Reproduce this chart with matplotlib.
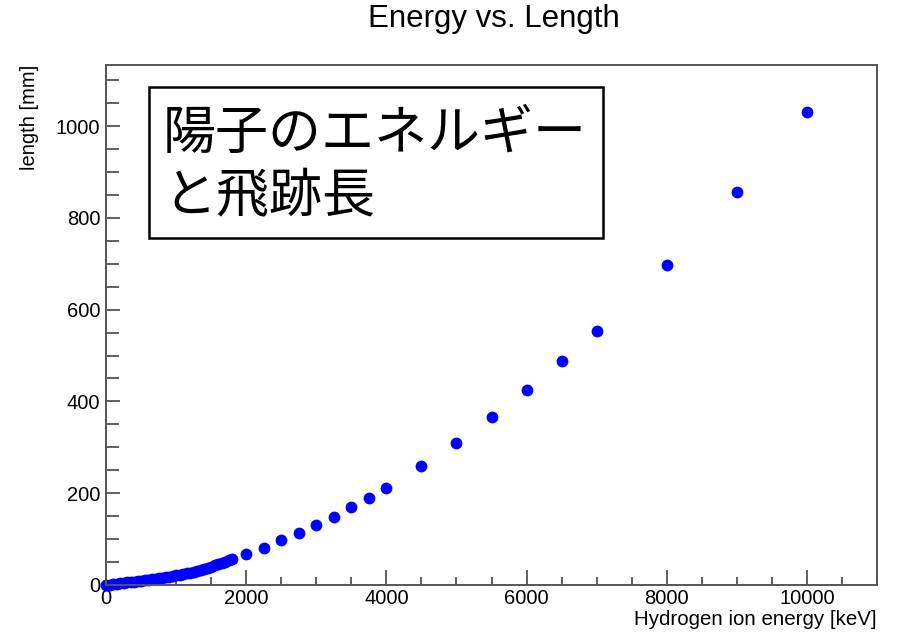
import numpy as np
import matplotlib.pyplot as plt
from matplotlib.patches import Rectangle
from matplotlib.ticker import MultipleLocator

## Dados: energia do íon de hidrogênio (keV) e alcance (mm)
energia_baixa = [0, 50, 100, 150, 200, 250, 300, 350, 400, 450, 500, 550, 600,
                 650, 700, 750, 800, 850, 900, 950, 1000, 1050, 1100, 1150,
                 1200, 1250, 1300, 1350, 1400, 1450, 1500, 1550, 1600, 1650,
                 1700, 1750, 1800]
alcance_baixa = [0.0, 0.9, 1.8, 2.8, 3.8, 4.7, 5.6, 6.5, 7.4, 8.3, 9.3, 10.3,
                 11.3, 12.4, 13.5, 14.6, 15.8, 17.0, 18.2, 19.5, 20.8, 22.2,
                 23.7, 25.2, 26.8, 28.5, 30.3, 32.5, 35.0, 37.5, 40.0, 42.5,
                 45.0, 47.8, 50.6, 53.5, 56.5]
energia_alta = [2000, 2250, 2500, 2750, 3000, 3250, 3500, 3750, 4000,
                4500, 5000, 5500, 6000, 6500, 7000, 8000, 9000, 10000]
alcance_alta = [68, 80, 97, 114, 131, 149, 169, 190, 212,
                259, 310, 367, 424, 487, 553, 697, 856, 1030]

energia = np.array(energia_baixa + energia_alta)
alcance = np.array(alcance_baixa + alcance_alta)

titulo = 'Energy vs. Length'
rotulo_x = 'Hydrogen ion energy [keV]'
rotulo_y = 'length [mm]'
texto_caixa = '陽子のエネルギー\nと飛跡長'

plt.rcParams['font.family'] = ['Liberation Sans', 'DejaVu Sans']

W, H = 902, 634
fig = plt.figure(figsize=(W / 100, H / 100), dpi=100)
ax = fig.add_axes([106 / W, 1 - 585 / H, (877 - 106) / W, (585 - 65) / H])

ax.plot(energia, alcance, 'o', color='#0000ff', markersize=8.5,
        markeredgewidth=0, clip_on=False)

ax.set_xlim(0, 11000)
ax.set_ylim(0, 1133)

# Ticks estilo ROOT (para dentro)
ax.xaxis.set_major_locator(MultipleLocator(2000))
ax.xaxis.set_minor_locator(MultipleLocator(500))
ax.yaxis.set_major_locator(MultipleLocator(200))
ax.yaxis.set_minor_locator(MultipleLocator(50))
ax.tick_params(axis='x', which='major', direction='in', length=11, width=1.2,
               color='#444444', labelsize=14.5, pad=3)
ax.tick_params(axis='x', which='minor', direction='in', length=5.5, width=1.2,
               color='#444444')
ax.tick_params(axis='y', which='major', direction='in', length=10, width=1.2,
               color='#444444', labelsize=14.5, pad=4)
ax.tick_params(axis='y', which='minor', direction='in', length=9, width=1.2,
               color='#444444')
for s in ax.spines.values():
    s.set_color('#555555')
    s.set_linewidth(1.4)

fig.text(0.5 * (367 + 620) / W, 1 - 19 / H, titulo, fontsize=22.5,
         ha='center', va='center')
ax.set_xlabel(rotulo_x, fontsize=14.8, loc='right', labelpad=1)
ax.set_ylabel(rotulo_y, fontsize=14.5, loc='top', labelpad=12)

# Caixa de texto em japonês
fig.add_artist(Rectangle((149 / W, 1 - 238 / H), (603 - 149) / W, (238 - 87) / H,
                         transform=fig.transFigure, facecolor='white',
                         edgecolor='black', linewidth=1.8, zorder=5))
fig.text(163 / W, 1 - 165 / H, texto_caixa, fontsize=38.2,
         family=['Noto Sans CJK JP', 'DejaVu Sans'], va='center', ha='left',
         linespacing=1.2, zorder=6)

fig.savefig('out.png', dpi=100)
